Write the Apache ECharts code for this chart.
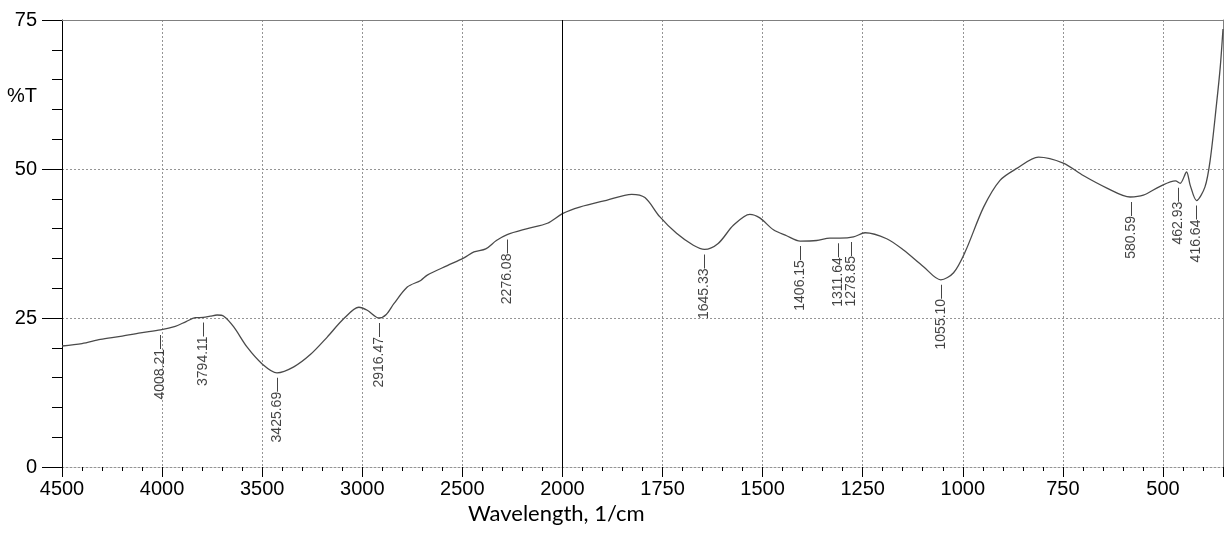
<!DOCTYPE html>
<html>
<head>
<meta charset="utf-8">
<script src="https://cdn.jsdelivr.net/npm/echarts@6/dist/echarts.min.js"></script>
<style>
  html, body { margin: 0; padding: 0; background: #fff; }
  #chart { width: 1225px; height: 533px; }
</style>
</head>
<body>
<div id="chart"></div>
<script>
// spectrum (1/cm, %T)
const wavenumbers = [
  4500, 4400, 4308, 4208, 4108, 4008, 3934, 3880, 3834, 3794, 3760, 3725, 3692,
  3642, 3575, 3500, 3426, 3342, 3258, 3175, 3092, 3017, 2975, 2916, 2880, 2842,
  2775, 2708, 2675, 2575, 2492, 2442, 2383, 2330, 2276, 2175, 2075, 2000, 1957,
  1890, 1827, 1794, 1757, 1715, 1673, 1645, 1611, 1573, 1532, 1507, 1473, 1440,
  1406, 1365, 1332, 1307, 1273, 1244, 1190, 1148, 1098, 1055, 1023, 994, 948,
  907, 865, 811, 749, 699, 640, 582, 549, 507, 469, 457, 441, 432, 416, 395,
  382, 366, 357, 350
];
const transmittance = [
  20.3, 20.7, 21.4, 21.9, 22.5, 23.0, 23.6, 24.4, 25.05, 25.1, 25.3, 25.5, 25.3,
  23.5, 20.1, 17.3, 15.8, 16.8, 18.9, 21.8, 24.9, 26.8, 26.3, 25.0, 25.6, 27.4,
  30.2, 31.3, 32.2, 33.8, 35.1, 36.1, 36.6, 38.0, 39.0, 40.0, 40.9, 42.5, 43.6,
  44.75, 45.75, 45.2, 42.0, 39.2, 37.2, 36.5, 37.5, 40.55, 42.4, 41.8, 39.8, 38.8,
  37.9, 38.0, 38.4, 38.4, 38.6, 39.3, 38.3, 36.4, 33.6, 31.4, 32.6, 36.1, 43.6,
  48.1, 50.1, 52.0, 51.0, 48.9, 46.8, 45.3, 45.6, 47.1, 48.0, 47.6, 49.5, 47.3, 44.7, 47.0,
  51.5, 61.0, 67.0, 73.5
];

// picked peaks
const peakWavenumbers = [
  4008.21, 3794.11, 3425.69, 2916.47, 2276.08, 1645.33, 1406.15,
  1311.64, 1278.85, 1055.10, 580.59, 462.93, 416.64
];
const peakTransmittance = [
  23.0, 25.1, 15.8, 25.0, 39.0, 36.5, 37.9,
  38.4, 38.6, 31.4, 45.3, 47.7, 44.7
];

const axisEnd = 350;

// the x axis changes scale at 2000 1/cm: 500 per division above, 250 per division below
function toAxis(w) {
  return w >= 2000 ? (4500 - w) / 500 : 5 + (2000 - w) / 250;
}
function fromAxis(t) {
  return t <= 5 ? 4500 - 500 * t : 2000 - 250 * (t - 5);
}

const chart = echarts.init(document.getElementById('chart'));

const gridLine = { color: '#959595', type: [2, 2], width: 1 };

const option = {
  animation: false,
  backgroundColor: '#fff',
  grid: { left: 62, right: 2, top: 20, bottom: 66 },
  xAxis: [
    {
      type: 'value',
      min: 0,
      max: toAxis(axisEnd),
      interval: 1,
      position: 'bottom',
      axisLine: { show: true, lineStyle: gridLine },
      axisTick: { show: true, length: 10, lineStyle: { color: '#000' } },
      minorTick: { show: true, splitNumber: 5, length: 4, lineStyle: { color: '#000' } },
      axisLabel: {
        color: '#000',
        fontSize: 20,
        fontFamily: 'Liberation Sans',
        margin: 12,
        showMaxLabel: false,
        formatter: (v) => String(Math.round(fromAxis(v)))
      },
      splitLine: { show: true, lineStyle: gridLine }
    },
    {
      type: 'value',
      min: 0,
      max: toAxis(axisEnd),
      position: 'top',
      axisLine: { show: true, onZero: false, lineStyle: { color: '#808080' } },
      axisTick: { show: false },
      axisLabel: { show: false },
      splitLine: { show: false }
    }
  ],
  yAxis: [
    {
      type: 'value',
      min: 0,
      max: 75,
      interval: 25,
      axisLine: { show: true, lineStyle: { color: '#000' } },
      axisTick: { show: true, length: 20, lineStyle: { color: '#000' } },
      minorTick: { show: true, splitNumber: 5, length: 10, lineStyle: { color: '#000' } },
      axisLabel: { color: '#000', fontSize: 20, fontFamily: 'Liberation Sans', margin: 25 },
      splitLine: { show: true, lineStyle: gridLine }
    },
    {
      type: 'value',
      min: 0,
      max: 75,
      position: 'right',
      axisLine: { show: true, onZero: false, lineStyle: { color: '#808080' } },
      axisTick: { show: false },
      axisLabel: { show: false },
      splitLine: { show: false }
    }
  ],
  graphic: [
    {
      type: 'text',
      left: 7,
      top: 86,
      style: { text: '%T', font: '20px "Liberation Sans"', fill: '#000' }
    },
    {
      type: 'text',
      left: 468,
      top: 503,
      style: { text: 'Wavelength, 1/cm', font: '22px Lato', fill: '#000' }
    }
  ],
  series: [
    {
      type: 'line',
      data: wavenumbers.map((w, i) => [toAxis(w), transmittance[i]]),
      showSymbol: false,
      smooth: 0.3,
      lineStyle: { color: '#4a4a4a', width: 1.3 },
      markLine: {
        silent: true,
        symbol: 'none',
        label: { show: false },
        lineStyle: { color: '#000', type: 'solid', width: 1 },
        data: [{ xAxis: toAxis(2000) }]
      },
      z: 3
    },
    {
      type: 'scatter',
      data: peakWavenumbers.map((w, i) => [toAxis(w), peakTransmittance[i]]),
      symbolSize: 1,
      itemStyle: { color: 'rgba(0,0,0,0)' },
      label: {
        show: true,
        position: 'inside',
        rotate: 90,
        align: 'right',
        verticalAlign: 'middle',
        offset: [-5, 0],
        fontSize: 14,
        fontFamily: 'Liberation Sans',
        color: '#111',
        formatter: (p) => peakWavenumbers[p.dataIndex].toFixed(2) + '\u2014'
      },
      z: 4
    }
  ]
};

chart.setOption(option);
</script>
</body>
</html>
